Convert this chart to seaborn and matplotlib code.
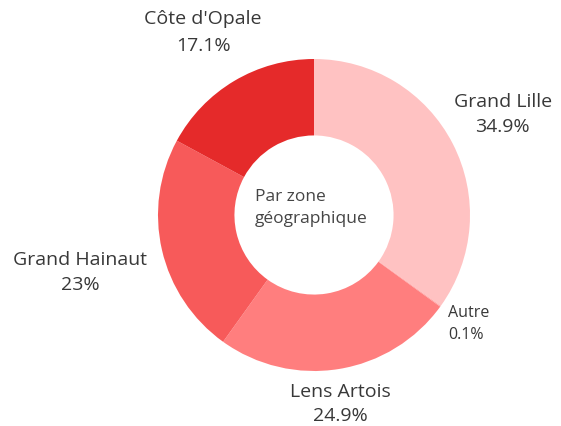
import matplotlib
matplotlib.use("Agg")
import matplotlib.pyplot as plt
import seaborn as sns

# data
zones = ["Grand Lille", "Autre", "Lens Artois", "Grand Hainaut", "Côte d'Opale"]
shares = [34.9, 0.1, 24.9, 23.0, 17.1]
share_labels = ["34.9%", "0.1%", "24.9%", "23%", "17.1%"]
colors = ["#ffc2c2", "#ffa3a3", "#ff7e7e", "#f75a5a", "#e52a2a"]

sns.set_theme(style="white")
plt.rcParams["font.family"] = ["Open Sans", "DejaVu Sans"]

fig = plt.figure(figsize=(5.61, 4.27), dpi=100)
cx, cy, r = 314, 216, 156
ax = fig.add_axes([(cx - r) / 561, (427 - cy - r) / 427, 2 * r / 561, 2 * r / 427])

ax.pie(shares, colors=colors, startangle=90, counterclock=False, radius=1,
       wedgeprops=dict(width=0.49, linewidth=0))
ax.set_xlim(-1, 1)
ax.set_ylim(-1, 1)
ax.set_aspect("equal")
ax.axis("off")

# label placement (x, y of name line, y of value line, alignment)
label_pos = [
    (1.21, 0.73, 0.57, "center"),
    (0.86, -0.62, -0.76, "left"),
    (0.17, -1.13, -1.28, "center"),
    (-1.50, -0.28, -0.44, "center"),
    (-0.71, 1.26, 1.09, "center"),
]
for name, val, (x, y1, y2, ha) in zip(zones, share_labels, label_pos):
    fs = 11.5 if name == "Autre" else 14
    ax.text(x, y1, name, ha=ha, va="center", fontsize=fs, color="#383838")
    ax.text(x, y2, val, ha=ha, va="center", fontsize=fs, color="#383838")

ax.text(-0.38, 0.12, "Par zone", ha="left", va="center", fontsize=12.5, color="#454545")
ax.text(-0.38, -0.02, "géographique", ha="left", va="center", fontsize=12.5, color="#454545")

fig.savefig("out.png", dpi=100)
